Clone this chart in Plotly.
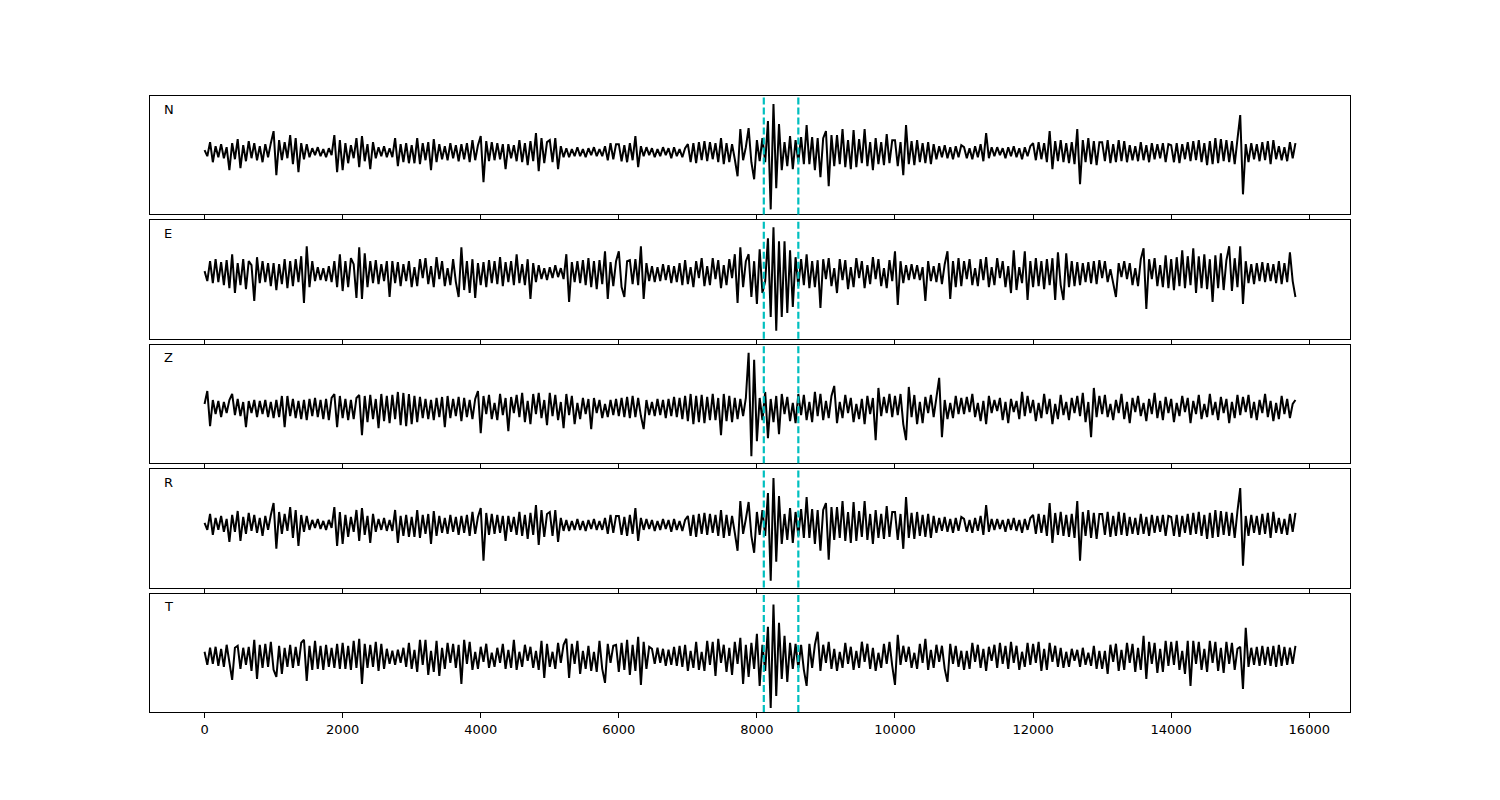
import numpy as np
import plotly.graph_objects as go
from plotly.subplots import make_subplots

# ---- data: amplitudes, one value every 40 samples,
# ---- one row of values per 1000 samples
sample_step = 40
channels = ["N", "E", "Z", "R", "T"]
pick_times = [8100, 8600]
x_tick_vals = [0, 2000, 4000, 6000, 8000, 10000, 12000, 14000, 16000]
x_tick_text = ["0", "2000", "4000", "6000", "8000", "10000", "12000", "14000", "16000"]

trace_N = [
    [2,-4,10,-10,6,-5,8,-6,5,-18,9,-7,13,-16,7,-9,11,-6,9,-8,6,-10,8,-5,9],
    [21,-23,12,-8,10,-6,17,-12,14,-20,9,-7,8,-5,4,-3,5,-4,3,-5,4,-3,17,-20,12],
    [-18,9,-11,7,-6,14,-15,16,-9,8,-17,10,-6,5,-4,6,-5,4,-5,14,-14,8,-10,9,-11],
    [7,-11,14,-12,9,-8,10,-18,13,-10,8,-7,6,-8,9,-6,7,-9,8,-7,9,-10,12,-8,7],
    [16,-30,11,-9,10,-8,9,-7,8,-17,8,-6,7,-9,12,-10,9,-13,11,-9,19,-19,14,-11,10],
    [12,-10,14,-17,6,-5,4,-5,3,-4,5,-4,3,-5,4,-3,5,-4,3,-4,6,-8,9,-7,8],
    [8,-9,7,-10,9,-8,16,-15,6,-4,5,-3,4,-5,3,-4,5,-3,4,-6,5,-4,3,-5,4],
    [8,-10,9,-11,10,-8,11,-9,10,-7,9,-10,14,-12,9,-10,8,-7,-24,23,-8,5,24,-10,-27],
    [12,-9,14,-10,31,-57,48,-36,28,-18,10,-14,16,-17,12,-10,15,-12,27,-12,15,-18,14,-25,14],
    [21,-34,17,-14,17,-12,23,-15,12,-17,22,-15,13,-11,23,-14,10,-18,14,-12,10,-13,18,-11,12],
    [12,-14,10,-23,27,-12,11,-13,12,-10,9,-11,10,-12,8,-7,6,-5,7,-6,5,-7,6,-5,7],
    [5,-6,4,-7,6,-5,8,-9,19,-6,5,-4,5,-3,4,-6,5,-4,6,-5,4,-7,5,-4,6],
    [9,-8,10,-7,9,-10,21,-17,11,-9,12,-10,9,-11,10,-12,23,-32,12,-10,14,-12,11,-13,10],
    [10,-9,12,-11,8,-10,12,-9,11,-10,7,-8,6,-9,10,-8,7,-10,9,-7,8,-6,9,-10,8],
    [7,-10,9,-11,8,-7,10,-9,11,-8,12,-10,9,-13,11,-12,14,-11,13,-9,12,-10,11,-12,13],
    [37,-42,8,-10,9,-7,8,-9,10,-8,11,-12,12,-7,6,-8,5,-9,10,-6,9],
]

trace_E = [
    [2,-8,12,-10,14,-9,11,-12,13,-15,19,-20,10,-12,14,-16,12,8,-28,16,-10,12,-9,10,-13],
    [10,-17,9,-11,14,-15,12,-13,14,-9,17,-30,27,-14,12,-8,6,-7,5,-8,7,-9,12,-14,19],
    [-18,12,-14,15,9,-25,26,-26,20,-14,12,-10,13,-11,9,-8,12,-24,12,-10,11,-13,9,-8,12],
    [-14,6,-13,14,-5,15,-11,7,-14,16,-6,12,-13,5,-12,14,-9,-24,26,-17,12,-20,14,-25,10],
    [-12,11,-14,13,-10,12,-11,16,-13,11,-9,12,-12,19,-10,9,-12,14,-26,10,-9,8,-6,5,-7],
    [6,-5,8,-4,5,-6,19,-29,11,-9,12,-10,13,-12,15,-14,12,-16,13,-11,22,-26,11,-13,12],
    [22,-14,-24,12,13,-11,14,-12,27,-26,10,-8,7,-9,6,-8,9,-7,8,-10,7,-9,10,-12,13],
    [-11,6,-14,12,-5,15,-13,7,-12,15,-6,13,-15,8,-12,14,-5,19,-30,26,-14,12,19,-24,12],
    [-31,24,-20,-8,35,-44,46,-58,32,-44,32,-40,23,-34,16,-13,14,-12,19,-15,12,-14,13,-35,14],
    [-6,15,-13,5,-20,14,-7,13,-16,6,-14,15,-5,12,-15,8,-11,16,-6,14,-13,5,-15,13,-8],
    [22,-32,12,-10,8,-7,9,-6,8,-7,6,-28,12,-8,7,-9,10,-11,9,22,-26,12,-14,15,-13],
    [12,-6,14,-12,5,-13,14,-7,16,-14,6,-12,15,-5,12,-14,7,-20,23,-17,6,-10,22,-27,12],
    [-14,15,-13,12,-16,14,-12,15,-27,21,-12,-27,20,-14,12,-13,11,-12,10,-9,11,-10,12,-11,13],
    [-5,12,-9,4,-10,-24,10,-4,12,-6,10,-12,5,-13,14,25,-36,14,-6,15,-13,8,-14,18,-15],
    [14,-17,16,-13,23,-15,17,-12,25,-20,17,-15,19,-16,14,-29,18,-15,20,-17,13,27,-18,15,-14],
    [27,-31,12,-10,9,-11,10,-8,11,-9,10,-8,9,-10,12,-11,10,-9,21,-8,-24],
]

trace_Z = [
    [4,17,-18,8,-6,7,-9,6,-5,8,14,-7,9,-8,6,-19,7,-5,8,-9,7,-6,8,-9,6],
    [-10,8,-9,12,-19,12,-8,9,-10,7,-11,8,-12,9,-8,10,-9,8,-11,9,-12,10,14,-19,12],
    [-10,9,-12,8,-11,10,13,-27,12,-14,13,-11,9,-20,14,-13,12,-15,13,-11,16,-17,15,-18,14],
    [-16,12,-14,11,-10,9,-11,8,-12,10,-9,11,-19,12,-10,9,-8,11,-13,10,-9,8,-11,9,17],
    [-25,12,-6,13,-11,5,-12,14,-7,10,-23,11,-5,13,-9,15,-14,7,-16,14,-6,15,-10,8,-17],
    [15,-8,13,-12,6,-20,14,-7,12,-16,5,-11,10,-6,9,-21,10,-5,8,-10,4,-9,8,-7,9],
    [-8,10,-9,11,-10,12,-9,10,-8,-21,8,-7,6,-8,9,-7,8,-10,9,-8,11,-9,10,-11,12],
    [-13,14,-16,12,-14,13,-15,11,-12,14,-12,10,-27,14,-13,12,-14,10,-11,9,-8,10,55,-48,48],
    [-33,10,-12,16,-30,9,-14,12,-26,14,-6,11,-13,5,-15,14,-7,13,-12,6,-14,16,-8,14,-12],
    [7,-10,12,22,-15,6,-10,13,-5,10,-14,4,-11,9,-16,12,-6,10,-32,20,-8,11,-5,14,-9],
    [12,-7,14,-16,-32,21,-9,13,-16,6,-15,11,-5,13,-9,12,30,-29,8,-11,5,-10,12,-6,10],
    [-6,11,-4,14,-9,5,-13,7,-16,12,-5,8,-3,10,-12,6,-15,9,-4,7,-11,16,-8,12,-5],
    [8,-13,5,-10,14,-6,9,-16,4,-11,13,-7,6,-12,10,-5,12,-8,15,-14,6,-29,20,-9,12],
    [-6,13,-9,4,-12,8,-5,14,-11,6,-15,10,-4,12,-8,5,-13,9,-6,15,-10,7,-12,11,-5],
    [9,-14,5,-8,12,-4,10,-15,7,-6,13,-11,4,-9,14,-7,6,-12,11,-5,9,-15,6,-10,13],
    [-7,11,-4,13,-10,6,-12,8,-5,14,-9,7,-13,5,-11,12,-6,9,-10,4,8],
]

trace_R = [
    [2,-5,11,-10,7,-5,9,-7,6,-17,10,-7,14,-16,8,-9,12,-6,10,-8,7,-11,9,-5,10],
    [22,-24,13,-9,11,-6,18,-13,15,-21,10,-7,9,-5,5,-3,6,-4,4,-5,5,-3,18,-21,13],
    [-19,10,-12,8,-7,15,-16,17,-10,9,-18,11,-7,6,-5,7,-6,5,-6,15,-18,9,-11,10,-12],
    [8,-12,15,-13,10,-9,11,-19,14,-11,9,-8,7,-9,10,-7,8,-10,9,-8,10,-11,13,-9,8],
    [17,-36,12,-10,11,-9,10,-8,9,-16,9,-7,8,-10,13,-11,10,-14,12,-10,20,-20,15,-12,11],
    [13,-11,15,-17,7,-6,5,-6,4,-5,6,-5,4,-6,5,-4,6,-5,4,-5,7,-9,10,-8,9],
    [9,-10,8,-11,10,-9,17,-16,7,-5,6,-4,5,-6,4,-5,6,-4,5,-7,6,-5,4,-6,5],
    [9,-11,10,-12,11,-9,12,-10,11,-8,10,-11,15,-13,10,-11,9,-8,-26,24,-9,6,23,-11,-28],
    [13,-10,15,-11,32,-56,47,-37,29,-19,11,-15,17,-18,13,-11,16,-13,28,-13,16,-19,15,-26,15],
    [22,-35,18,-15,18,-13,24,-16,13,-18,23,-16,14,-12,24,-15,11,-19,15,-13,11,-14,19,-12,13],
    [13,-15,11,-24,28,-13,12,-14,13,-11,10,-12,11,-13,9,-8,7,-6,8,-7,6,-8,7,-6,8],
    [6,-7,5,-8,7,-6,9,-10,20,-7,6,-5,6,-4,5,-7,6,-5,7,-6,5,-8,6,-5,7],
    [10,-9,11,-8,10,-11,22,-18,12,-10,13,-11,10,-12,11,-13,24,-36,13,-11,15,-13,12,-14,11],
    [11,-10,13,-12,9,-11,13,-10,12,-11,8,-9,7,-10,11,-9,8,-11,10,-8,9,-7,10,-11,9],
    [8,-11,10,-12,9,-8,11,-10,12,-9,13,-11,10,-14,12,-13,15,-12,14,-10,13,-11,12,-13,14],
    [37,-41,9,-11,10,-8,9,-10,11,-9,12,-13,13,-8,7,-9,6,-10,11,-7,12],
]

trace_T = [
    [5,-8,9,-7,10,-9,8,-10,12,-8,-23,9,11,-12,9,-8,10,-14,17,-22,12,-11,13,-10,15],
    [-13,-20,11,-17,9,-10,12,-11,10,-9,14,17,-24,11,-13,16,-12,11,-13,12,-10,9,-11,13,-12],
    [14,-12,11,-13,16,-11,18,-27,13,-11,12,-10,15,-14,13,-12,8,-7,6,-8,7,-6,9,-10,14],
    [-12,7,-15,17,-8,17,-18,6,-15,16,-19,9,-12,14,-6,13,-11,12,-27,17,-7,15,-13,5,-12],
    [10,-5,13,-11,4,-10,9,-6,13,-12,7,-11,17,-13,5,-10,12,-4,10,-11,6,-13,16,-21,13],
    [-10,5,-12,14,-6,12,18,-21,13,-7,16,-17,6,-12,11,-14,5,-15,16,-12,-26,13,-6,11,12],
    [-15,14,-13,17,-18,12,-14,20,-28,15,-12,10,8,-7,9,-6,8,-9,7,-8,10,-9,11,-10,12],
    [-14,6,-11,15,-13,5,-14,16,-8,15,-19,18,-6,12,-15,9,-18,15,-7,19,-27,12,-20,14,-12],
    [23,-29,12,-14,30,-51,52,-39,34,-22,21,-25,14,-12,13,-11,12,-13,-29,13,-11,12,25,-14,12],
    [-6,15,-12,8,-14,5,-11,14,-7,10,-13,6,-11,15,-5,13,-12,9,-14,4,-11,13,-7,15,-9],
    [-28,22,-8,11,-5,10,-11,4,-12,13,-6,18,-13,7,-11,12,-5,11,-12,-25,13,-7,11,-10,6],
    [-13,6,-12,14,-5,12,-11,8,-14,10,-4,12,-11,14,-7,11,-12,15,-6,11,-13,5,-10,14,-8],
    [13,-6,15,-14,8,-13,14,-5,11,-10,9,-11,5,-10,8,-4,7,-10,9,-8,4,-9,11,-12,6],
    [-12,6,-17,12,-5,13,-14,7,-13,14,-6,13,-15,9,-13,21,-22,15,-7,14,-16,8,-15,16,-9],
    [15,-8,16,-13,6,-17,16,-29,16,-7,15,-13,8,-15,16,-6,15,-14,9,-16,15,-7,14,-13,8],
    [10,-32,29,-10,9,-8,10,-9,11,-8,10,-9,11,-10,12,-9,10,-8,9,-7,11],
]

traces = [trace_N, trace_E, trace_Z, trace_R, trace_T]
# vertical view of each panel, in the same units as the amplitudes
y_ranges = [[-62, 56], [-66, 53], [-55, 63], [-63, 56], [-55, 63]]

for name, rows in zip(channels, traces):
    for r, row in enumerate(rows):
        want = 21 if r == len(rows) - 1 else 25
        assert len(row) == want, (name, r, len(row))

fig = make_subplots(rows=5, cols=1, shared_xaxes=True, vertical_spacing=6 / 616)

for k, (name, rows) in enumerate(zip(channels, traces)):
    vals = np.concatenate([np.asarray(r, dtype=float) for r in rows])
    xs = np.arange(len(vals)) * sample_step
    fig.add_trace(
        go.Scatter(x=xs, y=vals, mode="lines", line=dict(color="black", width=2),
                   showlegend=False, hoverinfo="skip"),
        row=k + 1, col=1,
    )
    axn = "" if k == 0 else str(k + 1)
    for t in pick_times:
        fig.add_shape(type="line", x0=t, x1=t, y0=0, y1=1,
                      xref="x" + axn, yref="y" + axn + " domain",
                      line=dict(color="#00BFBF", width=2.2, dash="7px,3px"),
                      layer="above")
    fig.add_annotation(text=name, xref="x" + axn + " domain", yref="y" + axn + " domain",
                       x=0.01, y=0.97, xanchor="left", yanchor="top", showarrow=False,
                       font=dict(family="DejaVu Sans", size=13, color="black"))
    fig.update_yaxes(range=y_ranges[k], showticklabels=False, ticks="", showgrid=False,
                     zeroline=False, showline=True, linecolor="black", linewidth=1,
                     mirror=True, row=k + 1, col=1)
    fig.update_xaxes(range=[-790, 16590], tickvals=x_tick_vals, ticktext=x_tick_text,
                     ticks="outside", ticklen=5, tickcolor="black", showgrid=False,
                     zeroline=False, showline=True, linecolor="black", linewidth=1,
                     mirror=True, showticklabels=(k == 4), row=k + 1, col=1)

# the page body adds an 8px offset, so the figure is sized to keep the frame in place
fig.update_layout(
    width=1492, height=792,
    margin=dict(l=142, r=150, t=88, b=88),
    plot_bgcolor="white", paper_bgcolor="white",
    font=dict(family="DejaVu Sans", size=13, color="black"),
)

fig.write_html("out.html")
